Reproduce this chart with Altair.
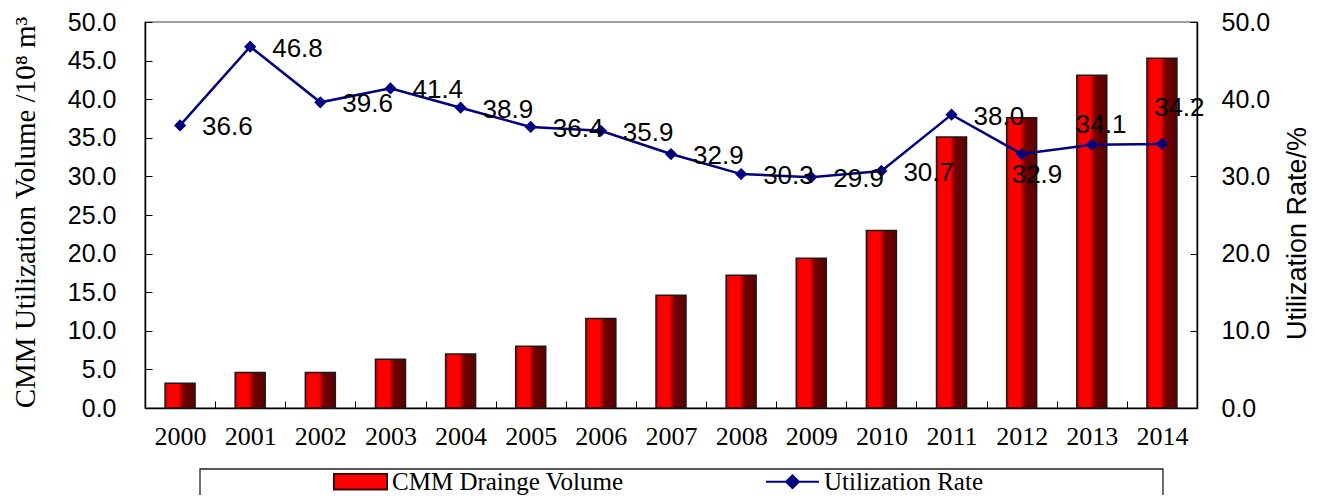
import altair as alt
import pandas as pd

years = ["2000", "2001", "2002", "2003", "2004", "2005", "2006", "2007",
         "2008", "2009", "2010", "2011", "2012", "2013", "2014"]
volume = [3.2, 4.6, 4.6, 6.3, 7.0, 8.0, 11.6, 14.6, 17.2, 19.4, 23.0, 35.1, 37.6, 43.1, 45.3]
rate = [36.6, 46.8, 39.6, 41.4, 38.9, 36.4, 35.9, 32.9, 30.3, 29.9, 30.7, 38.0, 32.9, 34.1, 34.2]
series = ["CMM Drainge Volume", "Utilization Rate"]
left_ticks = [0, 5, 10, 15, 20, 25, 30, 35, 40, 45, 50]
right_ticks = [0, 10, 20, 30, 40, 50]
left_title = "CMM Utilization Volume /10\u2078 m\u00b3"
right_title = "Utilization Rate/%"

df = pd.DataFrame({"year": years, "volume": volume, "rate": rate})

SANS = "Liberation Sans"
SERIF = "Liberation Serif"
NAVY = "#000080"

inward = {"expr": "-7"}

x_axis = alt.Axis(orient="bottom", labelAngle=0, labelFont=SERIF, labelFontSize=26,
                  labelColor="#000", labelPadding=22, tickBand="extent", tickSize=inward,
                  tickColor="#000", domainColor="#000", domainWidth=1.5, title=None,
                  grid=False)
x = alt.X("year:N", scale=alt.Scale(paddingInner=0, paddingOuter=0), axis=x_axis)

left_axis = alt.Axis(orient="left", values=left_ticks, format=".1f", labelFont=SANS,
                     labelFontSize=25, labelColor="#000", labelPadding=36, tickSize=inward,
                     tickColor="#000", domainColor="#000", domainWidth=1.5, grid=False,
                     title=left_title, titleFont=SERIF, titleFontSize=29,
                     titleFontWeight="normal", titleColor="#000", titleX=-120, titleY=190,
                     titleAngle=270, titleBaseline="middle", titleAlign="center")
right_axis = alt.Axis(orient="right", values=right_ticks, format=".1f", labelFont=SANS,
                      labelFontSize=25, labelColor="#000", labelPadding=31, tickSize=inward,
                      tickColor="#000", domainColor="#000", domainWidth=1.5, grid=False,
                      title=right_title, titleFont=SANS, titleFontSize=27,
                      titleFontWeight="normal", titleColor="#000", titleX=100, titleY=211,
                      titleAngle=270, titleBaseline="middle", titleAlign="center")

yL = alt.Y("volume:Q", scale=alt.Scale(domain=[0, 50]), axis=left_axis)
yR = alt.Y("rate:Q", scale=alt.Scale(domain=[0, 50]), axis=right_axis)

grad = alt.LinearGradient(
    gradient="linear", x1=0, x2=1, y1=0, y2=0,
    stops=[
        alt.GradientStop(offset=0, color="#c00000"),
        alt.GradientStop(offset=0.12, color="#ff0000"),
        alt.GradientStop(offset=0.45, color="#ff0000"),
        alt.GradientStop(offset=0.62, color="#700000"),
        alt.GradientStop(offset=1, color="#5a0000"),
    ],
)

base = alt.Chart(df)

bars = base.mark_bar(size=30, fill=grad, stroke="#1a1a1a", strokeWidth=1.5).encode(x=x, y=yL)

frame = alt.Chart(pd.DataFrame({"k": [1]})).mark_rect(
    fillOpacity=0, stroke="#222222", strokeWidth=1.3
).encode(x=alt.value(55), x2=alt.value(1018), y=alt.value(447), y2=alt.value(540))

bar_path = "M-1,-0.29H1V0.29H-1Z"
line_path = "M-1,0H1M-0.24,0L0,-0.24L0.24,0L0,0.24Z"

leg = alt.Legend(orient="none", legendX=188, legendY=432, direction="horizontal",
                 title=None, labelFont=SERIF, labelFontSize=25, labelColor="#000",
                 labelLimit=600, symbolSize=2809, symbolStrokeWidth=2, columnPadding=138,
                 labelOffset=4, padding=0)

legend_layer = alt.Chart(df).mark_point(filled=True, opacity=1).encode(
    fill=alt.Fill("series:N", scale=alt.Scale(domain=series, range=["#ff0000", NAVY]), legend=leg),
    stroke=alt.Stroke("series:N", scale=alt.Scale(domain=series, range=["#400000", NAVY]), legend=leg),
    shape=alt.Shape("series:N", scale=alt.Scale(domain=series, range=[bar_path, line_path]), legend=leg),
).transform_calculate(series="'x'").transform_filter("false")

line = base.mark_line(color=NAVY, strokeWidth=2.5).encode(x=x, y=yR)
pts = base.mark_point(shape="diamond", filled=True, size=150, color=NAVY, opacity=1).encode(x=x, y=yR)

def labels(sel, dx, dy):
    return base.mark_text(align="left", baseline="middle", dx=dx, dy=dy, font=SANS,
                          fontSize=26, color="#000").encode(
        x=x, y=yR, text=alt.Text("rate:Q", format=".1f")
    ).transform_filter(alt.FieldOneOfPredicate(field="year", oneOf=sel))

t_main = labels(years[:12], 22, 2)
t12 = labels(["2012"], -10, 21)
t13 = labels(["2013"], -16, -20)
t14 = labels(["2014"], -8, -36)

chart = alt.layer(
    alt.layer(bars, frame, legend_layer),
    alt.layer(line, pts, t_main, t12, t13, t14),
).resolve_scale(y="independent").properties(
    width=1052, height=386,
    autosize=alt.AutoSizeParams(type="none"),
    padding={"left": 137, "top": 14, "right": 115, "bottom": 87},
    background="white",
).configure_view(fill="#c0c0c0", stroke="#808080", strokeWidth=1.5)

chart.save("out.html", embed_options={"renderer": "svg", "actions": False})
